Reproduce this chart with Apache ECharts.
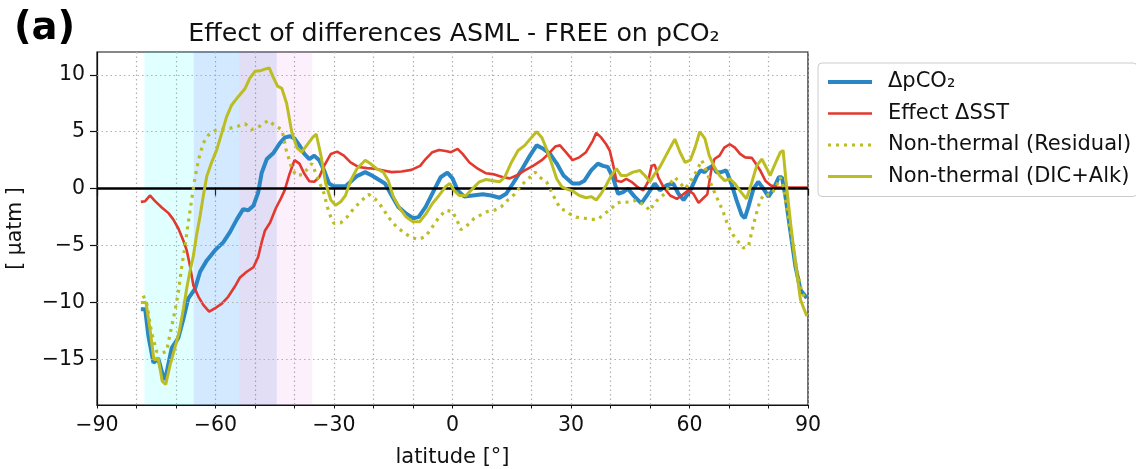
<!DOCTYPE html>
<html>
<head>
<meta charset="utf-8">
<script src="https://cdn.jsdelivr.net/npm/echarts@6/dist/echarts.min.js"></script>
<style>
  html, body { margin: 0; background: #fff; }
  #chart { width: 1136px; height: 469px; }
</style>
</head>
<body>
<div id="chart"></div>
<script>
// latitude [°], value [µatm]
const dpco2 = [[-78.9,-10.6],[-77.8,-10.6],[-77,-12.9],[-75.7,-15.3],[-74.5,-14.9],[-73,-16.8],[-72.4,-16.2],[-71.1,-14.0],[-69.4,-13.1],[-68.1,-11.4],[-66.9,-9.65],[-65.2,-8.8],[-63.9,-7.3],[-62.2,-6.3],[-60.1,-5.4],[-58,-4.7],[-56.3,-3.8],[-54.6,-2.7],[-53,-1.8],[-51.7,-1.9],[-50.4,-1.5],[-49.2,-0.35],[-48.3,1.4],[-47,2.6],[-45.4,3.1],[-43.7,4.0],[-42.4,4.5],[-41.1,4.6],[-40,4.4],[-38.75,3.8],[-37.5,3.05],[-36.25,2.6],[-35,2.9],[-33.75,2.5],[-32.5,1.6],[-31.25,0.45],[-30,0.2],[-28.3,0.2],[-27.1,0.2],[-25.8,0.6],[-24.2,1.1],[-22.1,1.45],[-20.4,1.15],[-18.75,0.8],[-17.1,0.45],[-15.4,-0.6],[-13.75,-1.6],[-11.7,-2.2],[-10,-2.6],[-8.6,-2.5],[-6.8,-1.6],[-4.7,-0.15],[-3,1.0],[-1.3,1.4],[0,0.9],[1.3,-0.15],[3,-0.7],[5.1,-0.6],[7.7,-0.5],[9.8,-0.6],[11.9,-0.8],[13.6,-0.45],[15.3,0.45],[17.4,1.6],[19.6,2.9],[21.3,3.8],[23,3.5],[24.7,3.05],[26.4,2.2],[28.1,1.15],[30.4,0.45],[32.1,0.45],[33.4,0.7],[35.1,1.6],[36.8,2.2],[38.1,2.0],[39.3,1.9],[40.6,1.0],[41.9,-0.45],[43.2,-0.3],[44.4,0],[46.1,-0.7],[47.8,-1.3],[49.5,-0.45],[51.2,0.45],[52.5,-0.15],[54.2,0.3],[55.9,0.45],[57.2,-0.45],[58.5,-1.0],[60.2,-0.15],[61.9,1.15],[62.8,1.6],[63.8,1.45],[64.6,1.75],[65.9,2.0],[66.8,1.45],[68,1.45],[69.3,1.6],[70.6,0.45],[71.9,-1.0],[73.2,-2.3],[74,-2.6],[74.9,-1.6],[76.2,0],[77.4,0.6],[78.7,0],[80,-0.7],[81.3,0],[82.6,1.0],[83.4,1.0],[84.3,-0.7],[85.6,-3.9],[86.8,-6.8],[88.1,-8.9],[89.7,-9.6]];

const effectSst = [[-78.9,-1.16],[-77.8,-1.1],[-76.6,-0.6],[-75.3,-1.1],[-73.6,-1.65],[-71.9,-2.15],[-70.7,-2.7],[-69.4,-3.5],[-68.1,-4.6],[-67.3,-5.4],[-66.5,-6.7],[-65.6,-8.5],[-64.3,-9.5],[-63.1,-10.2],[-61.6,-10.8],[-60.1,-10.5],[-58.4,-10.1],[-56.8,-9.5],[-55.1,-8.6],[-53.8,-7.8],[-52.1,-7.3],[-50.4,-6.9],[-49.2,-6.0],[-48.3,-4.7],[-47.5,-3.7],[-46.2,-3.0],[-44.7,-1.7],[-43.5,-0.9],[-42.5,-0.15],[-41.25,1.3],[-40,2.5],[-38.75,2.2],[-37.5,1.3],[-36.25,0.65],[-35,0.6],[-33.75,1.0],[-32.5,2.0],[-30.8,3.05],[-29.2,3.25],[-27.5,2.9],[-25.8,2.3],[-23.75,1.9],[-21.7,1.8],[-19.6,1.75],[-17.5,1.6],[-15.4,1.45],[-12.9,1.5],[-10.4,1.65],[-8.2,2.0],[-6.8,2.6],[-5.1,3.2],[-3.4,3.4],[-1.7,3.3],[-0.4,3.2],[1.3,3.5],[2.55,3.05],[4.3,2.3],[6.4,1.75],[8.5,1.35],[10.6,1.25],[12.8,1.0],[14.5,0.9],[16.2,1.15],[18.3,1.6],[20.4,2.0],[22.6,2.5],[24.3,3.05],[26,3.7],[27.2,3.8],[28.7,3.2],[30.4,2.5],[32.1,2.75],[33.8,3.2],[35.5,4.2],[36.4,4.9],[37.6,4.5],[38.9,3.9],[39.8,3.35],[40.6,2.2],[41.5,0.7],[42.7,0.6],[44,0.85],[45.3,0.6],[47,0.1],[48.3,-0.15],[49.5,0.6],[50.4,2.0],[51.2,2.1],[52.1,1.0],[53.4,0.15],[55.1,-0.6],[56.8,-0.9],[58,-0.6],[59.7,-0.15],[61,-0.45],[62.3,-1.25],[63.6,-0.8],[64.5,-0.5],[65.5,1.6],[66.3,2.6],[67.6,2.9],[68.8,3.6],[70.2,3.9],[71.5,3.6],[72.8,3.05],[74.1,2.75],[75.8,2.7],[76.6,2.3],[77.9,1.6],[79.2,0.7],[80.5,0.3],[82.1,0.1],[86,0.1],[90,0.1]];

const residual = [[-78.3,-9.4],[-77.4,-10.1],[-76.2,-12.6],[-74.9,-14.3],[-73.6,-14.45],[-72.4,-14.3],[-71.4,-12.6],[-70.3,-10.8],[-69.4,-9.1],[-68.6,-7.0],[-67.7,-5.0],[-66.9,-3.0],[-66,-0.9],[-65.2,0.95],[-64.3,2.55],[-63.1,4.0],[-61.8,4.7],[-60.1,5.1],[-58.4,5.2],[-56.3,5.3],[-54.2,5.5],[-52.5,5.7],[-50.8,5.2],[-48.7,5.5],[-46.6,6.0],[-44.9,5.5],[-43.2,5.2],[-42.1,3.4],[-40.8,1.9],[-39.6,1.15],[-37.9,1.25],[-36.7,1.75],[-35.6,2.2],[-34.2,1.0],[-32.5,-0.45],[-31.7,-1.6],[-30.8,-2.5],[-30,-3.05],[-28.3,-3.0],[-26.7,-2.5],[-25,-1.75],[-22.9,-1.0],[-21.25,-0.5],[-19.6,-0.9],[-17.9,-1.6],[-16.25,-2.5],[-14.2,-3.35],[-12.1,-3.9],[-10.4,-4.3],[-8.6,-4.45],[-6.8,-4.2],[-5.1,-3.35],[-3.4,-2.5],[-1.7,-1.9],[0,-2.0],[1.3,-2.9],[2.1,-3.6],[3.8,-3.2],[5.5,-2.6],[7.2,-2.3],[8.9,-2.0],[10.6,-1.9],[12.3,-1.6],[14,-1.0],[15.7,-0.5],[17.4,0.3],[19.6,1.0],[20.9,1.45],[22.1,1.0],[23.8,0.6],[25.5,-0.6],[27.2,-1.7],[28.9,-2.0],[29.6,-2.2],[31.3,-2.5],[33.4,-2.6],[35.1,-2.7],[36.8,-2.7],[38.5,-2.2],[40.2,-1.75],[41.5,-1.3],[42.7,-1.15],[44.9,-1.2],[46.6,-1.0],[47.8,-1.3],[49.1,-1.6],[50,-1.95],[50.8,-1.45],[52.1,-0.9],[53.8,-0.45],[55.1,0.45],[56.3,1.0],[57.6,0.5],[58.9,0],[60.2,0.6],[61.4,1.3],[62.3,1.9],[63.1,2.5],[64.2,1.6],[65.9,0],[67.2,-1.0],[68.5,-2.0],[69.7,-3.2],[71,-4.05],[72.3,-4.65],[73.6,-5.2],[74.9,-5.1],[75.7,-3.9],[76.6,-2.6],[77.9,-1.0],[79.1,-0.45],[80.4,-0.6],[81.7,0],[83,1.0],[83.8,0.15],[84.7,-1.9],[86,-4.5],[87.2,-7.1],[88.5,-9.2],[89.7,-9.75]];

const dicAlk = [[-78.9,-10.0],[-77.6,-10.0],[-76.6,-12.3],[-75.6,-15.0],[-74.5,-14.9],[-73.5,-16.9],[-72.6,-17.2],[-71.5,-15.5],[-70.3,-14.0],[-69.2,-12.6],[-68.1,-10.5],[-67.3,-8.8],[-66.5,-7.3],[-65.6,-5.9],[-64.8,-4.1],[-63.9,-2.4],[-63.1,-0.65],[-62.2,1.1],[-61,2.3],[-59.7,3.4],[-58.4,4.9],[-57.2,6.3],[-55.9,7.35],[-54.2,8.1],[-52.5,8.8],[-51.3,9.7],[-50,10.3],[-48.7,10.35],[-47.5,10.5],[-46.4,10.6],[-45.4,9.8],[-44.3,9.0],[-43.2,8.8],[-42.0,7.5],[-40.7,5.0],[-39.4,3.6],[-38.2,3.2],[-36.8,3.85],[-35.4,4.5],[-34.5,4.8],[-33.3,2.9],[-32.1,0.45],[-30.8,-1.0],[-29.6,-1.45],[-28.3,-1.15],[-27.1,-0.6],[-25.8,0.7],[-24.2,1.75],[-22.1,2.5],[-20.8,2.2],[-19.2,1.75],[-17.5,1.45],[-16.25,0.7],[-15,-0.7],[-13.3,-1.75],[-11.7,-2.5],[-10,-2.9],[-8.3,-2.9],[-6.7,-2.2],[-5.1,-1.3],[-3.4,-0.6],[-1.7,0.2],[-0.7,0.45],[0.4,-0.15],[1.7,-0.6],[3.4,-0.6],[5.1,0],[6.8,0.6],[8.5,0.8],[10.2,0.7],[11.9,0.6],[13.2,1.0],[14.9,2.3],[16.6,3.35],[18.3,3.8],[20,4.5],[21.3,5.0],[22.6,4.5],[23.8,3.5],[25.1,2.2],[26.4,0.85],[27.7,0.15],[29.4,-0.1],[30.4,-0.2],[32.1,-0.6],[33.8,-0.8],[35.1,-0.7],[36.4,-1.0],[37.6,-0.45],[38.9,0.3],[40.2,1.15],[41.5,1.75],[42.7,1.15],[44,1.15],[45.7,1.45],[47.4,1.6],[48.7,1.15],[50,0.6],[51.2,1.3],[52.5,1.9],[53.8,2.75],[55.1,3.6],[56.3,4.35],[57.6,3.2],[58.9,2.3],[60.2,2.5],[61.4,3.6],[62.6,5.0],[63.9,4.4],[65,2.9],[66.3,1.9],[67.6,1.15],[68.9,0.7],[70.2,0.85],[71.5,0.45],[72.7,-0.15],[74.4,-0.9],[75.7,0.45],[77,2.0],[78.3,2.6],[79.6,1.75],[80.4,1.15],[81.7,2.2],[83,3.2],[83.7,3.35],[84.5,0.45],[85.6,-3.05],[86.8,-6.5],[88.1,-9.75],[89.7,-11.2]];

// shaded latitude bands (edges in °)
const bandEdges = [-78, -65.5, -54, -44.5, -35.5];
const bandColors = ['rgba(0,255,255,0.12)', 'rgba(30,144,255,0.2)', 'rgba(106,90,205,0.2)', 'rgba(218,112,214,0.1)'];

const yTicks = [-15, -10, -5, 0, 5, 10];
const seriesNames = ['ΔpCO₂', 'Effect ΔSST', 'Non-thermal (Residual)', 'Non-thermal (DIC+Alk)'];
const seriesColors = ['#2a86c4', '#e2382f', '#bcbd22', '#bcbd22'];
const seriesWidths = [4, 2.6, 3.2, 3];

const FONT = 'DejaVu Sans';
const minus = v => String(v).replace('-', '\u2212');

const chart = echarts.init(document.getElementById('chart'));

const bands = [];
for (let i = 0; i < bandColors.length; i++) {
    bands.push([
        { xAxis: bandEdges[i], itemStyle: { color: bandColors[i] } },
        { xAxis: bandEdges[i + 1] }
    ]);
}

// legend entries, with the same line width as the curves
const legendData = seriesNames.map((n, i) => ({
    name: n,
    lineStyle: { width: seriesWidths[i] }
}));

const option = {
    backgroundColor: '#fff',
    animation: false,
    textStyle: { fontFamily: FONT },
    graphic: [
        { type: 'text', left: 14, top: 9, style: { text: '(a)', font: 'bold 38.5px "DejaVu Sans"', fill: '#000' } },
        { type: 'text', x: 454, y: 34, style: { text: 'Effect of differences ASML - FREE on pCO₂', font: '25.3px "DejaVu Sans"', fill: '#111', align: 'center', verticalAlign: 'middle' } }
    ],
    grid: {
        left: 97, right: 328, top: 52, bottom: 64,
        outerBoundsMode: 'none', containLabel: false,
        show: true, borderColor: '#111', borderWidth: 1.2, backgroundColor: 'transparent'
    },
    legend: {
        data: legendData,
        orient: 'vertical',
        left: 818, top: 63,
        padding: [7, 6, 8, 8],
        itemGap: 7.5,
        itemWidth: 44, itemHeight: 14,
        itemStyle: { opacity: 0 },
        borderColor: '#cccccc', borderWidth: 1, borderRadius: 4,
        backgroundColor: 'rgba(255,255,255,0.8)',
        textStyle: { fontFamily: FONT, fontSize: 21, color: '#111', lineHeight: 24, padding: [0, 0, 0, 11] }
    },
    xAxis: [
        {
            type: 'value', min: -90, max: 90, interval: 10,
            name: 'latitude [°]', nameLocation: 'middle', nameGap: 42,
            nameTextStyle: { fontFamily: FONT, fontSize: 21, color: '#111' },
            axisLine: { onZero: false, lineStyle: { color: '#111', width: 1.2 } },
            axisTick: { length: 3.5, lineStyle: { color: '#111' } },
            axisLabel: { fontFamily: FONT, fontSize: 20.5, color: '#111', margin: 10,
                formatter: v => (v % 30 === 0 ? minus(v) : '') },
            splitLine: { show: true, lineStyle: { color: '#b0b0b0', type: [1.5, 3], width: 1.2 } }
        },
        {
            type: 'value', min: -90, max: 90, interval: 30, position: 'bottom',
            axisLine: { show: false },
            axisTick: { length: 7, lineStyle: { color: '#111', width: 1.2 } },
            axisLabel: { show: false },
            splitLine: { show: false }
        }
    ],
    yAxis: {
        type: 'value', min: -19, max: 12,
        name: '[ µatm ]', nameLocation: 'middle', nameGap: 71,
        nameTextStyle: { fontFamily: FONT, fontSize: 20.5, color: '#111' },
        axisLine: { onZero: false, lineStyle: { color: '#111', width: 1.2 } },
        axisTick: { length: 7, customValues: yTicks, lineStyle: { color: '#111', width: 1.2 } },
        axisLabel: { customValues: yTicks, fontFamily: FONT, fontSize: 20.5, color: '#111', margin: 12, formatter: minus },
        splitLine: { show: false }
    },
    series: [
        {
            name: '_bg', type: 'line', data: [], z: 1, silent: true,
            markArea: { silent: true, data: bands },
            markLine: {
                silent: true, symbol: 'none', label: { show: false },
                lineStyle: { color: '#b0b0b0', type: [1.5, 3], width: 1.2 },
                data: yTicks.filter(v => v !== 0).map(v => ({ yAxis: v }))
            }
        },
        { name: seriesNames[0], type: 'line', data: dpco2, symbol: 'none', z: 3,
          lineStyle: { color: seriesColors[0], width: seriesWidths[0] }, itemStyle: { color: seriesColors[0] } },
        { name: seriesNames[1], type: 'line', data: effectSst, symbol: 'none', z: 4,
          lineStyle: { color: seriesColors[1], width: seriesWidths[1] }, itemStyle: { color: seriesColors[1] } },
        { name: seriesNames[2], type: 'line', data: residual, symbol: 'none', z: 5,
          lineStyle: { color: seriesColors[2], width: seriesWidths[2], type: [3, 5], cap: 'butt' }, itemStyle: { color: seriesColors[2] } },
        { name: seriesNames[3], type: 'line', data: dicAlk, symbol: 'none', z: 6,
          lineStyle: { color: seriesColors[3], width: seriesWidths[3] }, itemStyle: { color: seriesColors[3] } },
        {
            name: '_zero', type: 'line', data: [], z: 10, silent: true,
            markLine: {
                silent: true, symbol: 'none', label: { show: false },
                lineStyle: { color: '#000', type: 'solid', width: 2.5 },
                data: [{ yAxis: 0 }]
            }
        }
    ]
};

chart.setOption(option);
</script>
</body>
</html>
